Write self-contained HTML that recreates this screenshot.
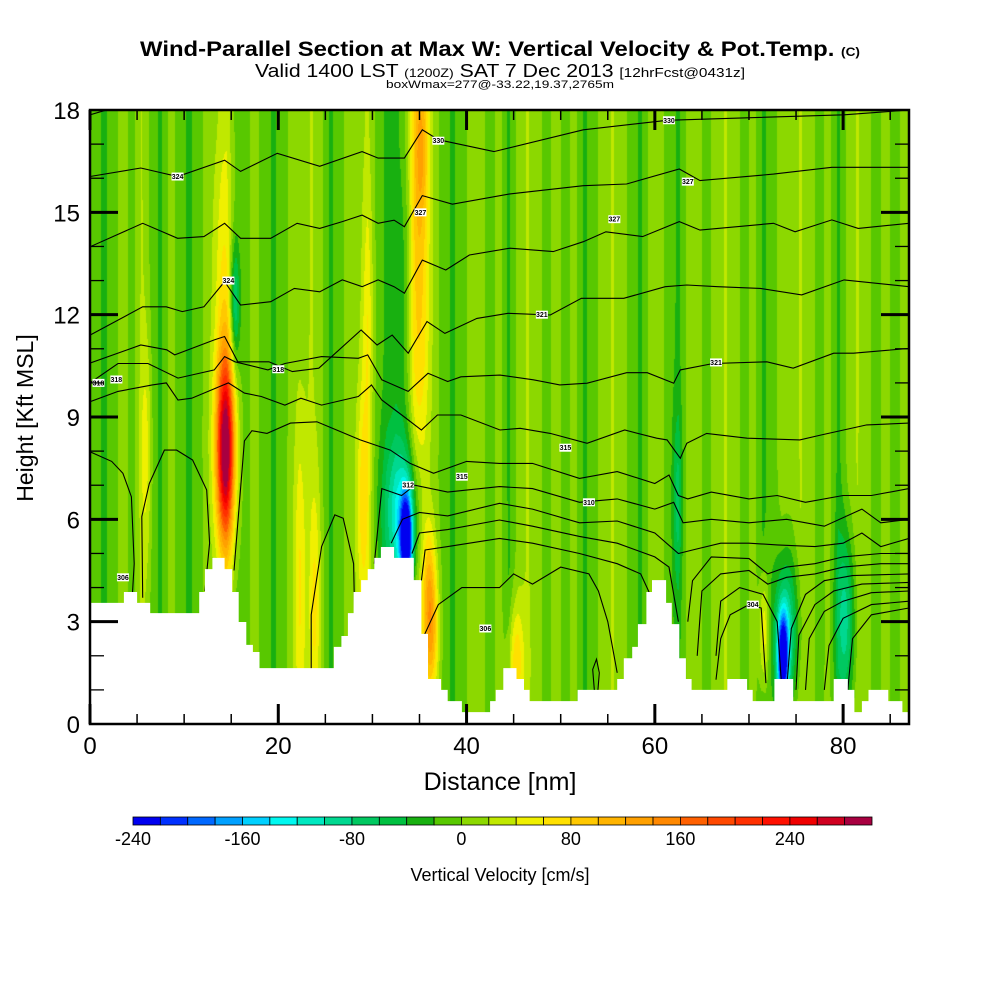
<!DOCTYPE html>
<html><head><meta charset="utf-8">
<style>
html,body{margin:0;padding:0;background:#fff;width:1000px;height:1000px;overflow:hidden}
#wrap{position:relative;width:1000px;height:1000px}
canvas{position:absolute;left:90px;top:110px}
svg{position:absolute;left:0;top:0}
text{font-family:"Liberation Sans",sans-serif}
</style></head><body>
<div id="wrap">
<canvas id="field" width="819" height="614"></canvas>
<svg id="svg" width="1000" height="1000" xmlns="http://www.w3.org/2000/svg">
 <defs><clipPath id="pc"><rect x="90" y="110" width="819" height="614"/></clipPath></defs>
 <g id="contours" clip-path="url(#pc)"></g>
 <path id="terrain" fill="#fff"/>
 <g id="labels"></g>
 <rect x="90" y="110" width="819" height="614" fill="none" stroke="#000" stroke-width="2.5"/>
 <g id="ticks"></g>
 <text x="500" y="56" text-anchor="middle" font-size="21" font-weight="bold" textLength="720" lengthAdjust="spacingAndGlyphs">Wind-Parallel Section at Max W: Vertical Velocity &amp; Pot.Temp. <tspan font-size="12">(C)</tspan></text>
 <text x="500" y="77" text-anchor="middle" font-size="18" textLength="490" lengthAdjust="spacingAndGlyphs">Valid 1400 LST <tspan font-size="12">(1200Z)</tspan> SAT 7 Dec 2013 <tspan font-size="13">[12hrFcst@0431z]</tspan></text>
 <text x="500" y="88" text-anchor="middle" font-size="11" textLength="228" lengthAdjust="spacingAndGlyphs">boxWmax=277@-33.22,19.37,2765m</text>
 <text transform="translate(33,418) rotate(-90)" text-anchor="middle" font-size="23">Height [Kft MSL]</text>
 <text x="500" y="790" text-anchor="middle" font-size="25">Distance [nm]</text>
 <g id="cbar"></g>
 <text x="500" y="881" text-anchor="middle" font-size="18">Vertical Velocity [cm/s]</text>
</svg>
</div>
<script>
// ---- data ----
const xTicks = [0,20,40,60,80];
const yTicks = [0,3,6,9,12,15,18];
const cbarLabels = [-240,-160,-80,0,80,160,240];
const levelColors = ['#0000f0','#0030ff','#0068ff','#00a0ff','#00d0ff','#00f8f0','#00e8c0','#00d890','#00c860','#00c040','#18b010','#58c800','#8cd800','#c0e800','#f0f000','#ffe000','#ffc800','#ffb400','#ffa000','#ff8800','#ff6000','#ff4800','#ff3000','#ff1000','#f00000','#d00020','#a80040'];
const levelMin = -240, levelStep = 20;
// column base vertical velocity (cm/s) per nm
const baseW = [-8,-25,-8,8,-8,22,-8,-25,8,-8,-25,-8,8,8,22,-8,-8,8,-8,-25,-8,8,8,22,8,-25,-8,8,8,22,-8,-25,-25,8,22,22,8,-8,-25,-8,8,8,-8,8,-25,8,22,8,-8,8,-8,8,-25,-8,8,22,8,-8,-25,8,8,-8,-25,8,8,-8,8,22,8,-8,8,-25,-8,8,8,22,8,-8,8,-25,8,22,8,-8,8,-8,8,8];
// localized features
const blobNm   = [14.4,14.1,34.9,35.2,33.6,33.2,15.4,36.2,29.0,22.3,23.9,73.6,74.0,80.3,71.6,45.2,62.4,6.0,29.5,36.0,33.5];
const blobKft  = [8.0,12.5,14.5,17.0,5.4,6.2,12.3,2.7,6.5,4.0,3.5,1.9,2.8,3.0,2.7,1.8,6.5,8.0,12.0,4.5,13.0];
const blobWnm  = [0.7,0.7,0.8,0.5,0.45,1.3,0.35,0.55,0.5,0.45,0.4,0.4,0.9,0.7,0.35,0.6,0.35,0.4,0.4,0.5,0.5];
const blobHkft = [1.9,3.5,5.5,1.5,0.9,1.6,1.2,1.3,2.5,3.5,2.5,0.9,1.5,1.8,1.2,1.2,1.8,2.5,2.5,1.2,4.0];
const blobAmp  = [290,45,70,50,-260,-110,-80,110,60,55,50,-250,-100,-90,75,75,-45,40,35,55,-35];
// terrain steps
const terrainNm  = [0,3.6,5.0,6.4,11.6,12.2,13.0,14.3,15.1,15.8,16.6,17.3,18.0,25.9,26.7,27.4,28.0,28.8,29.5,30.2,30.9,32.3,34.4,35.2,35.9,37.3,38.0,39.5,42.5,43.1,43.9,45.3,46.1,46.7,51.8,56.0,56.7,57.6,58.2,59.1,59.7,61.2,61.8,62.6,63.3,63.9,67.7,69.8,70.4,72.7,74.7,79.0,80.5,81.2,82.0,82.7,84.8,86.3];
const terrainKft = [3.55,3.87,3.55,3.25,3.87,4.54,4.87,4.54,3.87,2.99,2.32,2.11,1.64,2.26,2.58,3.25,3.87,4.22,4.54,4.87,5.19,4.87,4.22,2.64,1.32,1.0,0.67,0.35,0.67,1.0,1.64,1.32,1.0,0.67,1.0,1.32,1.93,2.26,2.93,3.87,4.22,3.55,2.93,1.93,1.32,1.0,1.32,1.0,0.67,1.32,0.67,1.32,1.0,0.35,0.67,1.0,0.67,0.35];
// potential temperature contour lines
const contourLines = [
 {nm:[0,3],kft:[17.86,18.1]},
 {nm:[0,5.4,9.3,14.3,16,19.9,24.4,28.9,30.6,33.4,35.3,37,42.9,52.4,61.3,80.1,87],kft:[16.05,16.3,16.05,16.53,16.2,16.73,16.35,16.78,16.59,16.59,17.42,17.13,16.78,17.42,17.7,17.86,18.0]},
 {nm:[0,5.6,9.3,12.1,14.3,16,19.2,22,24.4,26.8,28.9,30.6,32.3,33.4,35.3,38.5,44.6,52.4,57,62.6,64.8,72.6,78.8,87],kft:[13.99,14.68,14.24,14.29,14.68,14.24,14.24,14.68,14.53,14.73,14.92,14.68,14.77,14.58,15.49,15.24,15.54,15.78,15.83,16.27,15.93,16.12,16.32,16.32]},
 {nm:[0,5.6,8.1,9.8,12.1,14.3,16,19.2,21.7,24.4,26.8,28.9,30.6,32.3,33.4,35.3,37.8,40.3,44.6,49.2,52.4,54.8,58.7,62.6,64.8,72.6,74.9,78.8,81.6,87],kft:[11.4,12.23,12.23,12.09,12.23,12.97,12.28,12.38,12.77,12.67,13.02,12.82,13.02,12.82,12.63,13.6,13.31,13.75,13.95,13.85,14.14,14.43,14.29,14.73,14.48,14.68,14.43,14.78,14.53,14.68]},
 {nm:[0,5.4,8.15,9.0,13.2,14.3,15.7,19.0,21.5,24.3,28.8,30.5,32.1,33.8,35.8,37.7,41.1,44.4,48.9,52.2,56.7,61.1,63.4,66.7,71.2,75.6,80.1,87],kft:[10.58,11.11,10.97,10.82,11.26,11.36,10.62,10.62,10.33,10.43,11.55,11.11,11.4,10.87,11.8,11.45,11.89,12.04,11.99,12.48,12.48,12.82,12.87,12.82,12.77,12.58,13.02,12.82]},
 {nm:[0,2.97,6.16,9.35,13.2,14.3,15.4,18.9,20.7,24.6,28.5,29.5,31,33.8,35.9,38,39.4,43.55,47.1,49.9,52.8,57,59.2,62,62.7,66.2,71.9,74.7,79,81.1,87],kft:[10.0,10.57,10.57,10.14,10.38,10.77,10.62,10.38,10.57,10.77,10.72,10.82,10.09,9.75,10.28,10.04,10.18,10.23,10.09,9.94,9.99,10.3,10.3,9.99,10.38,10.57,10.62,10.43,10.87,10.87,11.01]},
 {nm:[0,2.97,6.62,8.1,9.35,10.8,14.7,16.4,18.2,20.7,22.4,24.6,28.5,29.9,31,33.4,35.2,36.9,39.4,43.55,45.7,48.9,52.8,56.8,60.2,61.3,62.7,63.4,65.5,69.8,75.4,77.6,82.5,87],kft:[9.45,9.75,9.94,10.0,9.5,9.55,10.0,9.7,9.6,9.35,9.55,9.35,9.6,9.94,9.5,9.0,8.62,9.06,9.06,8.62,8.67,8.52,8.23,8.62,8.38,8.33,7.79,8.23,8.52,8.38,8.33,8.47,8.77,8.82]},
 {nm:[15.3,16.4,17.2,18.8,21.3,24.1,26.2,28.7,31.9,34,36.5,40,43.5,47,52,56,60,61.5,62.5,63.5,66,70,73,76,80,83,87],kft:[4.5,8.3,8.6,8.52,8.82,8.86,8.62,8.33,8.03,7.64,7.35,7.7,7.64,7.64,7.2,7.4,7.05,7.3,6.7,6.6,6.8,6.6,6.7,6.5,6.7,6.7,6.9]},
 {nm:[30.2,31,33.1,34.5,38,43.5,47,52,56,60,62,63,66,70,74,78,82,84,87],kft:[4.7,6.9,6.7,7.0,6.8,6.96,6.9,6.5,6.6,6.3,6.5,5.9,6.0,5.9,6.0,5.8,6.3,5.9,6.0]},
 {nm:[32,33.2,35,38,43.5,47,52,56,60,62.5,64,67,70,73,77,80,82,84,87],kft:[5.3,6.0,6.2,6.1,6.47,6.3,5.9,5.95,5.6,5.0,5.1,5.3,5.3,5.25,5.2,5.3,5.6,5.2,5.44]},
 {nm:[34.2,35,38,43.5,47,52,56,60,61.5,62.5],kft:[5.0,5.6,5.7,5.98,5.8,5.5,5.3,4.9,4.6,3.0]},
 {nm:[35.2,35.6,38,43.5,47,52,56,58.5,59.5],kft:[4.2,5.1,5.2,5.44,5.3,5.0,4.7,4.4,3.8]},
 {nm:[63.5,64,66,70,72,74,77,80,84,87],kft:[3.0,4.2,4.9,4.85,4.4,4.6,4.7,4.9,5.0,5.0]},
 {nm:[64.5,65,67,70,72,74,77,80,84,87],kft:[2.0,3.9,4.4,4.5,4.1,4.3,4.4,4.6,4.7,4.7]},
 {nm:[66.5,67,69,71.5,73,73.5],kft:[2.0,3.6,4.0,3.8,3.0,1.0]},
 {nm:[74,74.5,76,78,81,87],kft:[1.0,2.8,3.8,4.2,4.35,4.4]},
 {nm:[75,75.3,77,79,82,87],kft:[1.0,2.6,3.5,3.9,4.1,4.15]},
 {nm:[76,76.4,78,80,83,87],kft:[1.0,2.5,3.3,3.6,3.85,3.9]},
 {nm:[78,78.5,80,83,87],kft:[1.0,2.3,3.1,3.5,3.6]},
 {nm:[80.5,81,83,87],kft:[1.0,2.5,3.2,3.4]},
 {nm:[66.5,67,68,70,71.3,71.8],kft:[1.3,2.5,3.2,3.5,3.4,1.2]},
 {nm:[35.5,37,39.5,43.5,45,47,50,53,54,55,56],kft:[2.6,3.5,4.0,4.0,4.4,4.1,4.6,4.4,3.9,3.0,1.5]},
 {nm:[0,2.3,3.5,4.4,4.7,4.5],kft:[7.98,7.7,7.35,6.66,4.7,3.8]},
 {nm:[5.6,5.5,6.3,7.9,9.2,10.9,12.4,12.7,12.2],kft:[3.7,6.08,7.05,8.03,8.03,7.74,6.86,5.3,3.9]},
 {nm:[23.5,23.5,24.6,26,26.9,28,28.1],kft:[1.6,3.2,5.2,6.13,6.03,4.7,3.4]},
 {nm:[53.6,53.4,53.8,54.1,53.9,53.6],kft:[0.9,1.6,1.9,1.5,0.8,0.9]}
];
const labelNm  = [0.9,9.3,37.0,61.5,63.5,14.7,20.0,35.1,66.5,39.5,33.8,2.8,55.7,48.0,3.5,42.0,70.4,53.0,50.5];
const labelKft = [10.0,16.05,17.1,17.7,15.9,13.0,10.4,15.0,10.6,7.25,7.0,10.1,14.8,12.0,4.3,2.8,3.5,6.5,8.1];
const labelTxt = ['318','324','330','330','327','324','318','327','321','315','312','318','327','321','306','306','304','310','315'];

// ---- scales ----
const X = nm => 90 + nm * 9.414;
const Y = k => 724 - k * 34.11;
const NS = 'http://www.w3.org/2000/svg';
function mk(tag, attrs){const e=document.createElementNS(NS,tag);for(const k in attrs)e.setAttribute(k,attrs[k]);return e;}

// ---- field ----
(function(){
 const cv=document.getElementById('field'), ctx=cv.getContext('2d');
 const W=cv.width,H=cv.height, img=ctx.createImageData(W,H), d=img.data;
 const rgb=levelColors.map(c=>[parseInt(c.slice(1,3),16),parseInt(c.slice(3,5),16),parseInt(c.slice(5,7),16)]);
 for(let py=0;py<H;py++){
  const k=(614-py-0.5)/34.11;
  for(let px=0;px<W;px++){
   const nm=(px+0.5)/9.414;
   let c=nm-0.5; let i0=Math.max(0,Math.min(baseW.length-1,Math.floor(c))); let i1=Math.min(baseW.length-1,i0+1);
   let t=Math.max(0,Math.min(1,c-i0));
   let v=baseW[i0]*(1-t)+baseW[i1]*t;
   for(let b=0;b<blobNm.length;b++){
    const dx=(nm-blobNm[b])/blobWnm[b], dy=(k-blobKft[b])/blobHkft[b];
    const q=dx*dx+dy*dy; if(q<20) v+=blobAmp[b]*Math.exp(-0.5*q);
   }
   let li=Math.floor((v-levelMin)/levelStep); li=Math.max(0,Math.min(levelColors.length-1,li));
   const o=(py*W+px)*4, col=rgb[li];
   d[o]=col[0];d[o+1]=col[1];d[o+2]=col[2];d[o+3]=255;
  }
 }
 ctx.putImageData(img,0,0);
})();

// ---- contours ----
const cg=document.getElementById('contours');
contourLines.forEach((ln,i)=>{
 const pts=ln.nm.map((n,j)=>X(n).toFixed(1)+','+Y(ln.kft[j]).toFixed(1)).join(' ');
 const p=mk('polyline',{points:pts,fill:'none',stroke:'#000','stroke-width':'1.1'});
 
 
 cg.appendChild(p);
});

// ---- terrain ----
(function(){
 let dstr='M'+X(0)+','+Y(0);
 for(let i=0;i<terrainNm.length;i++){
  dstr+=' L'+X(terrainNm[i]).toFixed(1)+','+Y(terrainKft[i]).toFixed(1);
  const nx=i+1<terrainNm.length?terrainNm[i+1]:87;
  dstr+=' L'+X(nx).toFixed(1)+','+Y(terrainKft[i]).toFixed(1);
 }
 dstr+=' L'+X(87)+','+Y(0)+' Z';
 document.getElementById('terrain').setAttribute('d',dstr);
})();

// ---- contour labels ----
const lg=document.getElementById('labels');
labelNm.forEach((n,i)=>{
 const g=mk('g',{});
 
 
 g.appendChild(mk('rect',{x:X(n)-6,y:Y(labelKft[i])-4,width:12,height:8,fill:'#fff'}));
 const t=mk('text',{x:X(n),y:Y(labelKft[i])+2.5,'font-size':'7','text-anchor':'middle','font-weight':'bold'});
 t.textContent=labelTxt[i];
 g.appendChild(t); lg.appendChild(g);
});

// ---- ticks ----
const tg=document.getElementById('ticks');
for(let n=0;n<=85;n+=5){
 const major=(n%20===0), L=major?20:10;
 const a=mk('line',{x1:X(n),x2:X(n),y1:724,y2:724-L,stroke:'#000','stroke-width':major?3:1.5});
 
 
 tg.appendChild(a);
 const b=mk('line',{x1:X(n),x2:X(n),y1:110,y2:110+L,stroke:'#000','stroke-width':major?3:1.5});
 
 
 tg.appendChild(b);
}
for(let k=1;k<18;k++){
 const major=(k%3===0), L=major?28:14;
 const a=mk('line',{x1:90,x2:90+L,y1:Y(k),y2:Y(k),stroke:'#000','stroke-width':major?3:1.3});
 
 
 tg.appendChild(a);
 const b=mk('line',{x1:909,x2:909-L,y1:Y(k),y2:Y(k),stroke:'#000','stroke-width':major?3:1.3});
 
 
 tg.appendChild(b);
}
xTicks.forEach(v=>{
 const t=mk('text',{x:X(v),y:754,'text-anchor':'middle','font-size':'24'});
 
 
 t.textContent=v; tg.appendChild(t);
});
yTicks.forEach(v=>{
 const t=mk('text',{x:80,y:Y(v)+9,'text-anchor':'end','font-size':'24'});
 
 
 t.textContent=v; tg.appendChild(t);
});

// ---- colorbar ----
const cb=document.getElementById('cbar');
const cbX0=133, cbW=(872-133)/levelColors.length;
levelColors.forEach((c,i)=>{
 const r=mk('rect',{x:cbX0+i*cbW,y:817,width:cbW,height:8,fill:c,stroke:'#000','stroke-width':'0.8'});
 
 
 cb.appendChild(r);
});
cbarLabels.forEach(v=>{
 const t=mk('text',{x:cbX0+(v-levelMin)/levelStep*cbW,y:845,'text-anchor':'middle','font-size':'18'});
 
 
 t.textContent=v; cb.appendChild(t);
});
</script>
</body></html>
